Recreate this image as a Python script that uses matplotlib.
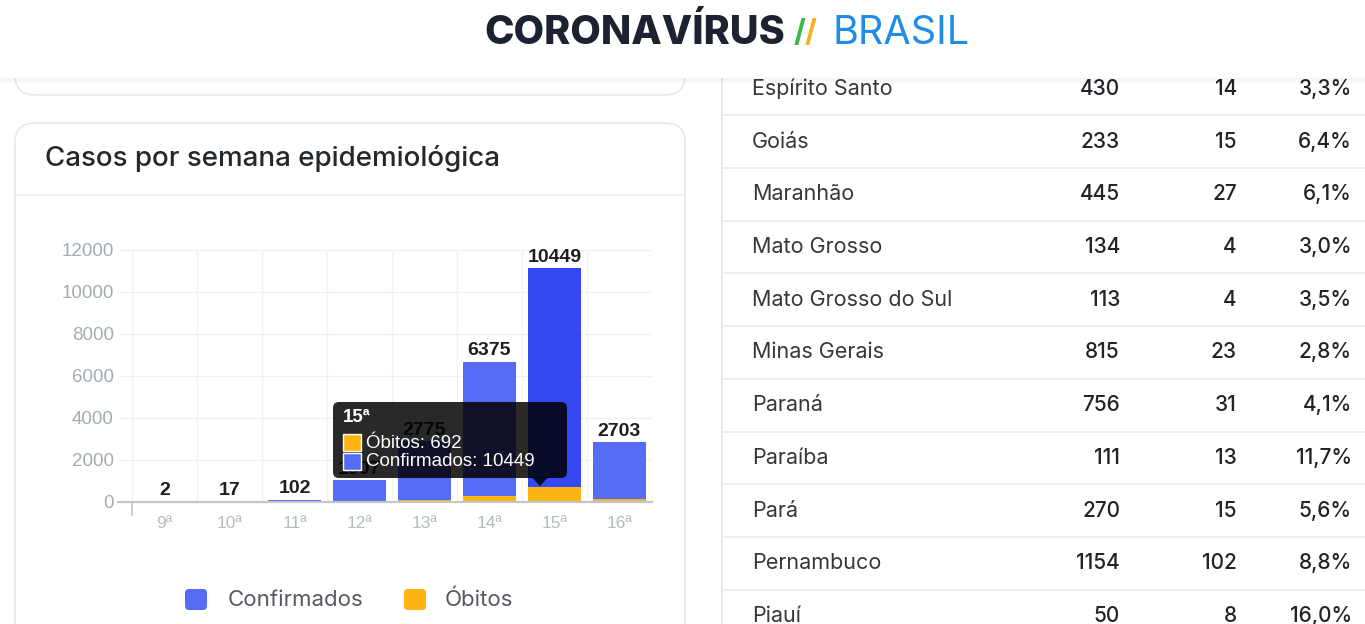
import matplotlib
matplotlib.use("Agg")
import matplotlib.pyplot as plt
from matplotlib.patches import FancyBboxPatch, Rectangle, Polygon
import numpy as np

# ---------------- data ----------------
semanas = ["9ª", "10ª", "11ª", "12ª", "13ª", "14ª", "15ª", "16ª"]
confirmados = [2, 17, 102, 1007, 2775, 6375, 10449, 2703]
obitos = [0, 0, 1, 18, 110, 300, 692, 150]
y_ticks = [0, 2000, 4000, 6000, 8000, 10000, 12000]

estados = ["Espírito Santo", "Goiás", "Maranhão", "Mato Grosso", "Mato Grosso do Sul",
           "Minas Gerais", "Paraná", "Paraíba", "Pará", "Pernambuco", "Piauí"]
casos = [430, 233, 445, 134, 113, 815, 756, 111, 270, 1154, 50]
mortes = [14, 15, 27, 4, 4, 23, 31, 13, 15, 102, 8]
letalidade = ["3,3%", "6,4%", "6,1%", "3,0%", "3,5%", "2,8%", "4,1%", "11,7%", "5,6%", "8,8%", "16,0%"]

tooltip_semana = "15ª"

# ---------------- style ----------------
W, H = 1365, 624
BLUE = "#566cf6"
BLUE_HOVER = "#3349f2"
ORANGE = "#fdb414"
TICK_GRAY = "#a3abb5"
GEO = ["Inter", "DejaVu Sans"]
ARIAL = ["Liberation Sans", "DejaVu Sans"]

fig = plt.figure(figsize=(W / 100, H / 100), dpi=100)
fig.patch.set_facecolor("white")

bg = fig.add_axes([0, 0, 1, 1])
bg.set_xlim(0, W)
bg.set_ylim(H, 0)
bg.axis("off")

# right table panel
bg.plot([722, 722], [78, H], color="#dfe5ec", lw=1.2, zorder=2)
row0, row_h = 89, 52.7
for i, (st, c, m, p) in enumerate(zip(estados, casos, mortes, letalidade)):
    yc = row0 + i * row_h
    bg.text(752, yc, st, fontsize=15.5, family=GEO, color="#34373c", ha="left", va="center", zorder=3)
    bg.text(1120, yc, f"{c}", fontsize=15, fontweight="medium", family=GEO, color="#202328",
            ha="right", va="center", zorder=3)
    bg.text(1237, yc, f"{m}", fontsize=15, fontweight="medium", family=GEO, color="#202328",
            ha="right", va="center", zorder=3)
    bg.text(1352, yc, p, fontsize=15, fontweight="medium", family=GEO, color="#202328",
            ha="right", va="center", zorder=3)
    if i < len(estados) - 1:
        bg.plot([723, W], [yc + row_h / 2, yc + row_h / 2], color="#e8ecf0", lw=1.2, zorder=2)

# previous card (bottom visible)
bg.add_patch(FancyBboxPatch((15, -200), 670, 295, boxstyle="round,pad=0,rounding_size=20",
                            facecolor="white", edgecolor="#e4e9ee", lw=1.2, zorder=1))
# chart card
bg.add_patch(FancyBboxPatch((15, 123), 670, 600, boxstyle="round,pad=0,rounding_size=20",
                            facecolor="white", edgecolor="#e4e9ee", lw=1.2, zorder=1))
bg.plot([16, 684], [195, 195], color="#edf0f3", lw=1.2, zorder=2)
bg.text(45, 159, "Casos por semana epidemiológica", fontsize=20, fontweight="medium", family=GEO,
        color="#24272c", ha="left", va="center", zorder=3)

# header
bg.add_patch(Rectangle((0, 0), W, 78, facecolor="white", edgecolor="none", zorder=5))
for k in range(6):
    bg.plot([0, W], [78 + k, 78 + k], color="#000000", alpha=0.035 * (6 - k) / 6, lw=1, zorder=5)
bg.text(785, 33, "CORONAVÍRUS", fontsize=28.5, fontweight="heavy", family=GEO,
        color="#1c2230", ha="right", va="center", zorder=6)
bg.text(800, 34, "/", fontsize=22, fontweight="bold", family=GEO, color="#3cb54a",
        ha="center", va="center", zorder=6)
bg.text(811, 34, "/", fontsize=22, fontweight="bold", family=GEO, color="#f7b21b",
        ha="center", va="center", zorder=6)
bg.text(833, 33, "BRASIL", fontsize=28.5, family=GEO, color="#1f8de6",
        ha="left", va="center", zorder=6)

# legend
bg.add_patch(FancyBboxPatch((185, 589), 22, 21, boxstyle="round,pad=0,rounding_size=4",
                            facecolor=BLUE, edgecolor="none", zorder=3))
bg.text(228, 600, "Confirmados", fontsize=16, family=GEO, color="#555a61", ha="left", va="center", zorder=3)
bg.add_patch(FancyBboxPatch((404, 589), 22, 21, boxstyle="round,pad=0,rounding_size=4",
                            facecolor=ORANGE, edgecolor="none", zorder=3))
bg.text(445, 600, "Óbitos", fontsize=16, family=GEO, color="#555a61", ha="left", va="center", zorder=3)

# ---------------- chart ----------------
left, right, top, bottom = 132, 652, 250, 502
ax = fig.add_axes([left / W, (H - bottom) / H, (right - left) / W, (bottom - top) / H])
ax.patch.set_alpha(0)
x = np.arange(len(semanas))
ax.set_xlim(-0.5, len(semanas) - 0.5)
ax.set_ylim(0, 12000)
for s in ax.spines.values():
    s.set_visible(False)

for yv in y_ticks[1:]:
    ax.axhline(yv, color="#eef0f2", lw=1, zorder=0)
for xb in np.arange(-0.5, len(semanas), 1.0):
    ax.axvline(xb, color="#f1f2f4", lw=1, zorder=0)

blue_cols = [BLUE_HOVER if s == tooltip_semana else BLUE for s in semanas]
ax.bar(x, obitos, width=0.82, color=ORANGE, zorder=2)
ax.bar(x, confirmados, bottom=obitos, width=0.82, color=blue_cols, zorder=2)

px_x = 1.0 / 65.0
ax.plot([-0.5 - 14 * px_x, len(semanas) - 0.5], [0, 0], color="#c2c6cc", lw=1.6,
        clip_on=False, zorder=3)
ax.plot([-0.5, -0.5], [0, -13 * 12000 / 252], color="#c2c6cc", lw=1.2, clip_on=False, zorder=3)

for xi, c, o in zip(x, confirmados, obitos):
    ax.text(xi, c + o + 120, f"{c}", fontsize=14, fontweight="bold", family=ARIAL,
            color="#1e1e1e", ha="center", va="bottom", zorder=4)

ax.set_yticks(y_ticks)
ax.set_yticklabels([str(v) for v in y_ticks], fontsize=13.5, family=ARIAL, color=TICK_GRAY)
ax.tick_params(axis="y", length=9, color="#eceef1", pad=4)
ax.set_xticks(x)
ax.set_xticklabels(semanas, fontsize=12.5, family=ARIAL, color="#b4bbc3")
ax.tick_params(axis="x", length=0, pad=10)

# ---------------- tooltip overlay ----------------
ov = fig.add_axes([0, 0, 1, 1])
ov.set_xlim(0, W)
ov.set_ylim(H, 0)
ov.axis("off")
ov.patch.set_alpha(0)
ti = semanas.index(tooltip_semana)
ov.add_patch(FancyBboxPatch((333, 402), 234, 76, boxstyle="round,pad=0,rounding_size=6",
                            facecolor="black", edgecolor="none", alpha=0.84, zorder=1))
ov.add_patch(Polygon([[532, 477.5], [548, 477.5], [540, 486]], closed=True,
                     facecolor="black", edgecolor="none", alpha=0.84, zorder=1))
ov.text(343, 418, semanas[ti], fontsize=13.5, fontweight="bold", family=ARIAL,
        color="white", ha="left", va="center", zorder=2)
ov.add_patch(Rectangle((343, 434), 18, 17, facecolor=ORANGE, edgecolor="white", lw=1, zorder=2))
ov.text(366, 443, f"Óbitos: {obitos[ti]}", fontsize=13.5, family=ARIAL,
        color="white", ha="left", va="center", zorder=2)
ov.add_patch(Rectangle((343, 453), 18, 17, facecolor=BLUE, edgecolor="white", lw=1, zorder=2))
ov.text(366, 462, f"Confirmados: {confirmados[ti]}", fontsize=13.5, family=ARIAL,
        color="white", ha="left", va="center", zorder=2)

fig.savefig("out.png", dpi=100, facecolor="white")
